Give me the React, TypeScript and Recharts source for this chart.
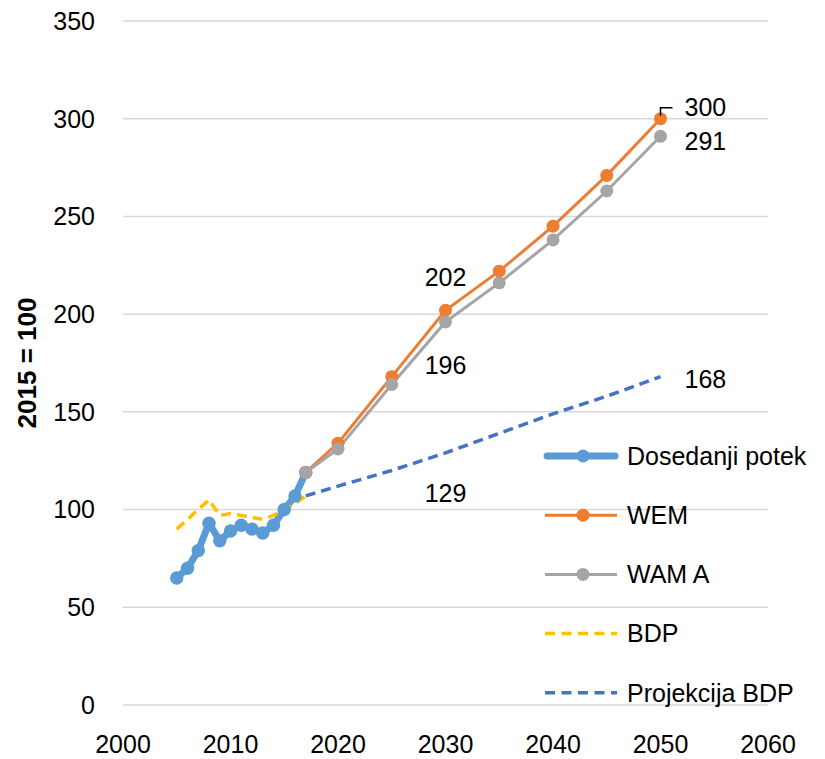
import React from "react";
import { LineChart, Line, XAxis, YAxis, CartesianGrid } from "recharts";

// historical years (Dosedanji potek + BDP)
const histYears = [2005, 2006, 2007, 2008, 2009, 2010, 2011, 2012, 2013, 2014, 2015, 2016, 2017];
const histValues = [65, 70, 79, 93, 84, 89, 92, 90, 88, 92, 100, 107, 119];
const bdpValues = [90, 95, 100, 105, 97, 98, 97, 96, 95, 97, 100, 103, 107];

// projections
const projYears = [2017, 2020, 2025, 2030, 2035, 2040, 2045, 2050];
const wemValues = [119, 134, 168, 202, 222, 245, 271, 300];
const wamValues = [119, 131, 164, 196, 216, 238, 263, 291];
const projValues = [107, 112, 120, 129, 139, 149, 158, 168];

const xTicks = [2000, 2010, 2020, 2030, 2040, 2050, 2060];
const yTicks = [0, 50, 100, 150, 200, 250, 300, 350];
const labelYears = [2030, 2050];

const FONT = '"Liberation Sans", Arial, sans-serif';
const BLUE = "#5B9BD5";
const ORANGE = "#ED7D31";
const GRAY = "#A5A5A5";
const YELLOW = "#FFC000";
const DBLUE = "#4472C4";

type Row = { year: number; hist?: number; bdp?: number; wem?: number; wam?: number; proj?: number };

const rows = new Map<number, Row>();
const getRow = (y: number) => {
  if (!rows.has(y)) rows.set(y, { year: y });
  return rows.get(y)!;
};
histYears.forEach((y, i) => {
  const r = getRow(y);
  r.hist = histValues[i];
  r.bdp = bdpValues[i];
});
projYears.forEach((y, i) => {
  const r = getRow(y);
  r.wem = wemValues[i];
  r.wam = wamValues[i];
  r.proj = projValues[i];
});
const data = [...rows.values()].sort((a, b) => a.year - b.year);

const txt = { fontFamily: FONT, fontSize: 25, fill: "#000" };

// dot renderer that also draws the data labels at 2030 / 2050
function makeDot(key: "wem" | "wam" | "proj", color: string | null) {
  return (p: any) => {
    const { cx, cy, payload, index } = p;
    const v = payload ? payload[key] : null;
    if (v == null || cy == null) return <g key={index} />;
    let label: React.ReactNode = null;
    if (labelYears.includes(payload.year)) {
      const mid = payload.year === labelYears[0];
      if (key === "wem") {
        label = mid ? (
          <text x={cx} y={cy - 33} dy="0.35em" textAnchor="middle" {...txt}>{v}</text>
        ) : (
          <g>
            <path d={`M${cx},${cy - 3}V${cy - 11}H${cx + 12}`} stroke="#000" strokeWidth={1.5} fill="none" />
            <text x={cx + 24} y={cy - 11} dy="0.35em" {...txt}>{v}</text>
          </g>
        );
      } else if (key === "wam") {
        label = mid ? (
          <text x={cx} y={cy + 43} dy="0.35em" textAnchor="middle" {...txt}>{v}</text>
        ) : (
          <text x={cx + 24} y={cy + 5} dy="0.35em" {...txt}>{v}</text>
        );
      } else {
        label = mid ? (
          <text x={cx} y={cy + 40} dy="0.35em" textAnchor="middle" {...txt}>{v}</text>
        ) : (
          <text x={cx + 24} y={cy + 3} dy="0.35em" {...txt}>{v}</text>
        );
      }
    }
    return (
      <g key={index}>
        {color && <circle cx={cx} cy={cy} r={6.5} fill={color} />}
        {label}
      </g>
    );
  };
}

const legendItems = [
  { name: "Dosedanji potek", color: BLUE, width: 7, dash: undefined as string | undefined, dot: true },
  { name: "WEM", color: ORANGE, width: 3, dash: undefined, dot: true },
  { name: "WAM A", color: GRAY, width: 3, dash: undefined, dot: true },
  { name: "BDP", color: YELLOW, width: 3.5, dash: "10 6.5", dot: false },
  { name: "Projekcija BDP", color: DBLUE, width: 3.5, dash: "10 6.5", dot: false },
];

function ChartLegend() {
  return (
    <svg width={290} height={300} style={{ position: "absolute", left: 530, top: 420, overflow: "visible" }}>
      {legendItems.map((it, i) => {
        const y = 28 + i * 59.2;
        return (
          <g key={it.name}>
            <line
              x1={it.dot && it.width > 5 ? 9 : 7}
              x2={it.dot && it.width > 5 ? 77 : 79}
              y1={y}
              y2={y}
              stroke={it.color}
              strokeWidth={it.width}
              strokeDasharray={it.dash}
              strokeLinecap={it.width > 5 ? "round" : "butt"}
            />
            {it.dot && <circle cx={45} cy={y} r={6.5} fill={it.color} />}
            <text x={89} y={y} dy="0.35em" {...txt}>{it.name}</text>
          </g>
        );
      })}
    </svg>
  );
}

export default function App() {
  return (
    <div style={{ position: "relative", width: 817, height: 751 }}>
      <LineChart width={817} height={751} data={data} margin={{ top: 13, right: 57, bottom: 4, left: 0 }}>
        <CartesianGrid vertical={false} stroke="#D9D9D9" strokeWidth={1.5} />
        <XAxis
          dataKey="year"
          type="number"
          domain={[2000, 2060]}
          ticks={xTicks}
          interval={0}
          axisLine={false}
          tickLine={false}
          tickSize={20}
          tickMargin={10}
          height={50}
          tick={{ ...txt }}
        />
        <YAxis
          type="number"
          domain={[0, 350]}
          ticks={yTicks}
          interval={0}
          axisLine={false}
          tickLine={false}
          tickSize={20}
          tickMargin={8}
          width={115}
          tick={{ ...txt }}
        />
        <Line
          dataKey="hist"
          stroke={BLUE}
          strokeWidth={7}
          strokeLinejoin="round"
          strokeLinecap="round"
          dot={{ r: 6.7, fill: BLUE, stroke: BLUE, strokeWidth: 0 }}
          activeDot={false}
          isAnimationActive={false}
        />
        <Line
          dataKey="wem"
          stroke={ORANGE}
          strokeWidth={3}
          dot={makeDot("wem", ORANGE)}
          activeDot={false}
          isAnimationActive={false}
        />
        <Line
          dataKey="wam"
          stroke={GRAY}
          strokeWidth={3}
          dot={makeDot("wam", GRAY)}
          activeDot={false}
          isAnimationActive={false}
        />
        <Line
          dataKey="bdp"
          stroke={YELLOW}
          strokeWidth={3.5}
          strokeDasharray="10 6"
          dot={false}
          activeDot={false}
          isAnimationActive={false}
        />
        <Line
          dataKey="proj"
          stroke={DBLUE}
          strokeWidth={3.5}
          strokeDasharray="10 6"
          dot={makeDot("proj", null)}
          activeDot={false}
          isAnimationActive={false}
        />
      </LineChart>
      <div
        style={{
          position: "absolute",
          left: 19,
          top: 355,
          transform: "translate(-50%, -50%) rotate(-90deg)",
          whiteSpace: "nowrap",
          fontFamily: FONT,
          fontWeight: "bold",
          fontSize: 26,
          color: "#000",
        }}
      >
        2015 = 100
      </div>
      <ChartLegend />
    </div>
  );
}
